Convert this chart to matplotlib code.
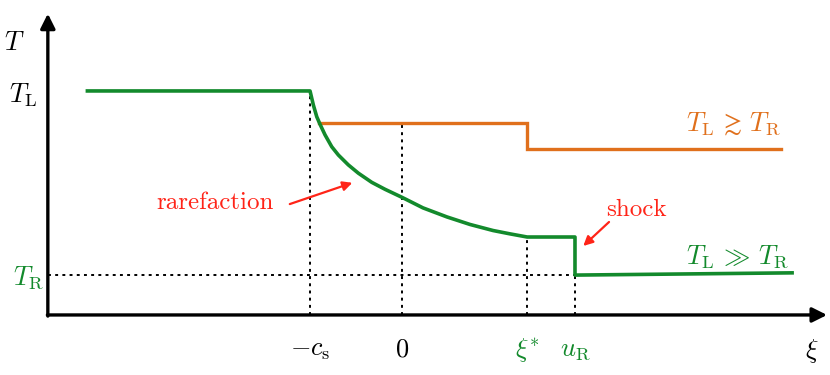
import matplotlib.pyplot as plt

plt.rcParams['mathtext.fontset'] = 'cm'
plt.rcParams['font.family'] = 'serif'
plt.rcParams['font.serif'] = ['cmr10', 'DejaVu Serif']

green = '#138a2c'
orange = '#e0701c'
red = '#ff2418'

# positions on the xi axis
xi_cs = -1.0
xi_star = 1.36
u_R = 1.88
xi_start = -3.42
xi_end_green = 4.24
xi_end_orange = 4.12

# temperature levels
T_L = 1.0
T_R = 0.178
T_or_hi = 0.856
T_or_lo = 0.74
T_plateau = 0.348

# rarefaction fan
fan_xi = [-1.0, -0.964, -0.927, -0.891, -0.837, -0.764, -0.692, -0.584,
          -0.475, -0.329, -0.185, 0.0, 0.228, 0.489, 0.739, 0.989, 1.174, 1.36]
fan_T = [1.0, 0.9375, 0.885, 0.851, 0.804, 0.751, 0.714, 0.670,
         0.633, 0.592, 0.561, 0.525, 0.478, 0.4375, 0.404, 0.377, 0.362, 0.348]

green_x = [xi_start] + fan_xi + [u_R, u_R, xi_end_green]
green_y = [T_L] + fan_T + [T_plateau, T_R, T_R + 0.01]

orange_x = [-0.9, xi_star, xi_star, xi_end_orange]
orange_y = [T_or_hi, T_or_hi, T_or_lo, T_or_lo]

fig = plt.figure(figsize=(8.3, 3.75), dpi=100)
ax = fig.add_axes([0, 0, 1, 1])
ax.set_xlim(-4.37, 4.652)
ax.set_ylim(-0.268, 1.406)
ax.axis('off')

# axes with arrows
ax.annotate('', xy=(4.62, 0), xytext=(-3.855, 0),
            arrowprops=dict(arrowstyle='-|>', color='black', lw=2.4,
                            mutation_scale=22, shrinkA=0, shrinkB=0))
ax.annotate('', xy=(-3.85, 1.345), xytext=(-3.85, -0.005),
            arrowprops=dict(arrowstyle='-|>', color='black', lw=2.4,
                            mutation_scale=22, shrinkA=0, shrinkB=0))

# dotted guides
dot = dict(color='black', lw=1.4, linestyle=(0, (1.5, 2.2)))
ax.plot([xi_cs, xi_cs], [0, T_L], **dot)
ax.plot([0, 0], [0, T_or_hi], **dot)
ax.plot([xi_star, xi_star], [0, T_plateau], **dot)
ax.plot([u_R, u_R], [0, T_plateau], **dot)
ax.plot([-3.85, u_R], [T_R, T_R], **dot)

ax.plot(orange_x, orange_y, color=orange, lw=2.4, solid_joinstyle='miter')
ax.plot(green_x, green_y, color=green, lw=2.6, solid_joinstyle='round')

fs = 19
ax.text(-4.21, 1.215, r'$T$', fontsize=fs, ha='center', va='center')
ax.text(-4.12, 0.98, r'$T_{\mathrm{L}}$', fontsize=fs, ha='center', va='center')
ax.text(-4.06, 0.165, r'$T_{\mathrm{R}}$', fontsize=fs, ha='center', va='center', color=green)

ax.text(xi_cs, -0.155, r'$-c_{\mathrm{s}}$', fontsize=fs, ha='center', va='center')
ax.text(0, -0.155, r'$0$', fontsize=fs, ha='center', va='center')
ax.text(xi_star, -0.155, r'$\xi^{*}$', fontsize=fs, ha='center', va='center', color=green)
ax.text(u_R, -0.155, r'$u_{\mathrm{R}}$', fontsize=fs, ha='center', va='center', color=green)
ax.text(4.46, -0.16, r'$\xi$', fontsize=fs, ha='center', va='center')

ax.text(3.6, 0.855, r'$T_{\mathrm{L}}\,\gtrsim\,T_{\mathrm{R}}$', fontsize=19,
        ha='center', va='center', color=orange)
ax.text(3.65, 0.26, r'$T_{\mathrm{L}}\,\gg\,T_{\mathrm{R}}$', fontsize=19,
        ha='center', va='center', color=green)

ax.text(-2.03, 0.5, 'rarefaction', fontsize=18, ha='center', va='center', color=red)
ax.annotate('', xy=(-0.54, 0.59), xytext=(-1.22, 0.495),
            arrowprops=dict(arrowstyle='-|>', color=red, lw=1.6,
                            mutation_scale=14, shrinkA=0, shrinkB=0))
ax.text(2.55, 0.47, 'shock', fontsize=18, ha='center', va='center', color=red)
ax.annotate('', xy=(1.97, 0.308), xytext=(2.25, 0.415),
            arrowprops=dict(arrowstyle='-|>', color=red, lw=1.6,
                            mutation_scale=14, shrinkA=0, shrinkB=0))

fig.savefig('out.png', dpi=100)
